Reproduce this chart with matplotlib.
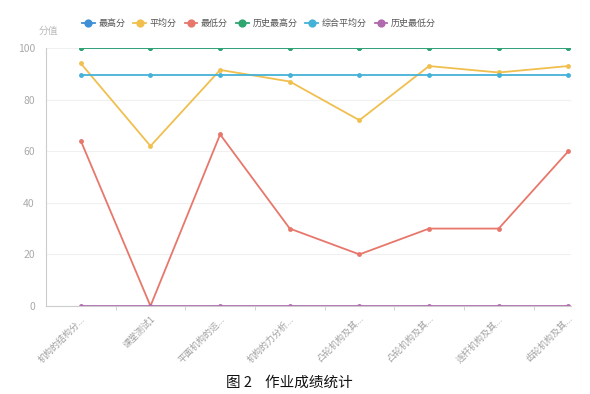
import matplotlib.pyplot as plt

plt.rcParams['font.family'] = ['Noto Sans CJK SC', 'DejaVu Sans']

# data
categories = ['机构的结构分...', '课堂测试1', '平面机构的运...', '机构的力分析...',
              '凸轮机构及其...', '凸轮机构及其...', '连杆机构及其...', '齿轮机构及其...']
max_score = [100, 100, 100, 100, 100, 100, 100, 100]
avg_score = [94, 62, 91.5, 87, 72, 93, 90.5, 93]
min_score = [64, 0, 66.5, 30, 20, 30, 30, 60]
hist_max = [100, 100, 100, 100, 100, 100, 100, 100]
overall_avg = [89.5, 89.5, 89.5, 89.5, 89.5, 89.5, 89.5, 89.5]
hist_min = [0, 0, 0, 0, 0, 0, 0, 0]

series = [
    ('最高分', max_score, '#3d8fd6'),
    ('平均分', avg_score, '#f0bf4e'),
    ('最低分', min_score, '#e8776b'),
    ('历史最高分', hist_max, '#2fa570'),
    ('综合平均分', overall_avg, '#44b2d8'),
    ('历史最低分', hist_min, '#b06aae'),
]

fig = plt.figure(figsize=(5.9, 3.94), dpi=100)
ax = fig.add_axes([0.078, 0.2234, 0.89, 0.6548])

x = list(range(len(categories)))
handles = []
for name, vals, color in series:
    h, = ax.plot(x, vals, color=color, lw=1.3, marker='o', ms=3.5,
                 markeredgewidth=0, label=name)
    handles.append(h)

ax.set_xlim(-0.5, 7.04)
ax.set_ylim(0, 100)
ax.set_yticks([0, 20, 40, 60, 80, 100])
ax.set_xticks(x)
ax.set_xticklabels(categories, rotation=45, ha='right', rotation_mode='anchor',
                   fontsize=6.5, color='#a0a0a0')
ax.set_xticks([i - 0.5 for i in range(1, 8)], minor=True)
ax.tick_params(axis='x', which='major', length=0, pad=6)
ax.tick_params(axis='x', which='minor', length=3, color='#cccccc')
ax.tick_params(axis='y', length=0, labelsize=7.5, labelcolor='#aaaaaa', pad=8)

ax.grid(axis='y', color='#f0f0f0', lw=0.8)
ax.set_axisbelow(True)
for s in ['top', 'right']:
    ax.spines[s].set_visible(False)
ax.spines['left'].set_color('#cccccc')
ax.spines['bottom'].set_color('#cccccc')
ax.spines['left'].set_linewidth(0.8)
ax.spines['bottom'].set_linewidth(0.8)

fig.text(0.066, 0.915, '分值', fontsize=7, color='#bbbbbb')

fig.legend(handles=handles, loc='center left', bbox_to_anchor=(0.125, 0.94),
           ncol=6, frameon=False, fontsize=6.5, handlelength=1.4,
           handletextpad=0.4, columnspacing=0.9, markerscale=1.7,
           labelcolor='#555555')

fig.text(0.49, 0.028, '图 2    作业成绩统计', ha='center', va='center',
         fontsize=10.5, color='#111111')

fig.savefig('out.png', dpi=100)
